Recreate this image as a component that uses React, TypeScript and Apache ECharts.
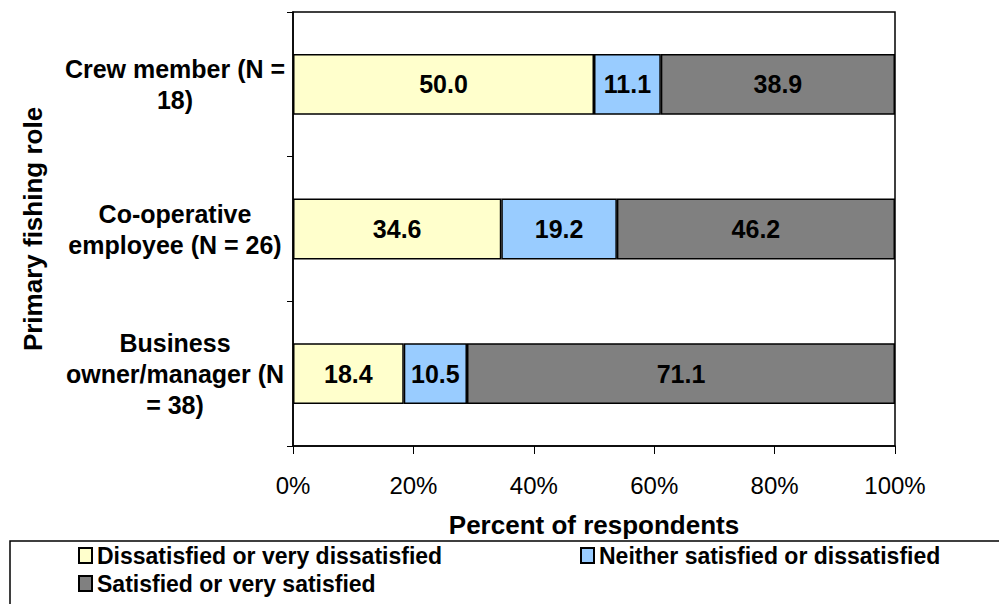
import React, { useEffect, useRef } from "react";
import * as echarts from "echarts";

const categories = [
  "Crew member (N =\n18)",
  "Co-operative\nemployee (N = 26)",
  "Business\nowner/manager (N\n= 38)",
];
const seriesNames = [
  "Dissatisfied or very dissatisfied",
  "Neither satisfied or dissatisfied",
  "Satisfied or very satisfied",
];
const dissatisfied = [50.0, 34.6, 18.4];
const neither = [11.1, 19.2, 10.5];
const satisfied = [38.9, 46.2, 71.1];
const colors = ["#FFFFCC", "#99CCFF", "#808080"];

const FONT = "'Liberation Sans', Arial, sans-serif";

export default function App() {
  const ref = useRef<HTMLDivElement>(null);
  useEffect(() => {
    if (!ref.current) return;
    const chart = echarts.init(ref.current, undefined, { renderer: "svg" });
    const values = [dissatisfied, neither, satisfied];
    const legendPos = [
      { left: 78, top: 544 },
      { left: 580, top: 544 },
      { left: 78, top: 572 },
    ];
    chart.setOption({
      animation: false,
      backgroundColor: "#ffffff",
      textStyle: { fontFamily: FONT },
      grid: {
        left: 293,
        right: 104,
        top: 12,
        bottom: 158,
        show: true,
        borderColor: "#000",
        borderWidth: 1.5,
        backgroundColor: "transparent",
      },
      legend: seriesNames.map((n, i) => ({
        data: [n],
        left: legendPos[i].left,
        top: legendPos[i].top,
        padding: 0,
        icon: "rect",
        itemWidth: 13,
        itemHeight: 15,
        itemGap: 0,
        selectedMode: false,
        textStyle: {
          fontFamily: FONT,
          fontWeight: "bold",
          fontSize: 23,
          color: "#000",
          padding: [0, 0, 0, 0],
        },
      })),
      xAxis: {
        type: "value",
        min: 0,
        max: 100,
        interval: 20,
        name: "Percent of respondents",
        nameLocation: "middle",
        nameGap: 66,
        nameTextStyle: {
          fontFamily: FONT,
          fontWeight: "bold",
          fontSize: 26,
          color: "#000",
        },
        axisLine: { show: true, lineStyle: { color: "#000", width: 1.5 } },
        axisTick: { show: true, length: 8, lineStyle: { color: "#000", width: 1 } },
        axisLabel: {
          formatter: "{value}%",
          fontFamily: FONT,
          fontSize: 24,
          color: "#000",
          margin: 27,
        },
        splitLine: { show: false },
      },
      yAxis: {
        type: "category",
        data: categories,
        inverse: true,
        name: "Primary fishing role",
        nameLocation: "middle",
        nameGap: 247,
        nameRotate: 90,
        nameTextStyle: {
          fontFamily: FONT,
          fontWeight: "bold",
          fontSize: 26,
          color: "#000",
        },
        axisLine: { show: true, lineStyle: { color: "#000", width: 1.5 } },
        axisTick: { show: true, length: 6, lineStyle: { color: "#000", width: 1 } },
        axisLabel: {
          fontFamily: FONT,
          fontWeight: "bold",
          fontSize: 25,
          lineHeight: 31,
          color: "#000",
          align: "center",
          margin: 118,
        },
      },
      series: seriesNames.map((n, i) => ({
        name: n,
        type: "bar",
        stack: "total",
        barWidth: "42%",
        data: values[i],
        itemStyle: { color: colors[i], borderColor: "#000", borderWidth: 1.5 },
        label: {
          show: true,
          position: "inside",
          formatter: (p: any) => Number(p.value).toFixed(1),
          fontFamily: FONT,
          fontWeight: "bold",
          fontSize: 25,
          color: "#000",
        },
      })),
      graphic: [
        {
          type: "rect",
          shape: { x: 10, y: 541, width: 1000, height: 80 },
          style: { fill: "none", stroke: "#000", lineWidth: 1.5 },
          silent: true,
        },
      ],
    });
    return () => chart.dispose();
  }, []);
  return (
    <div
      ref={ref}
      style={{ position: "fixed", left: 0, top: 0, width: 999, height: 604 }}
    />
  );
}
